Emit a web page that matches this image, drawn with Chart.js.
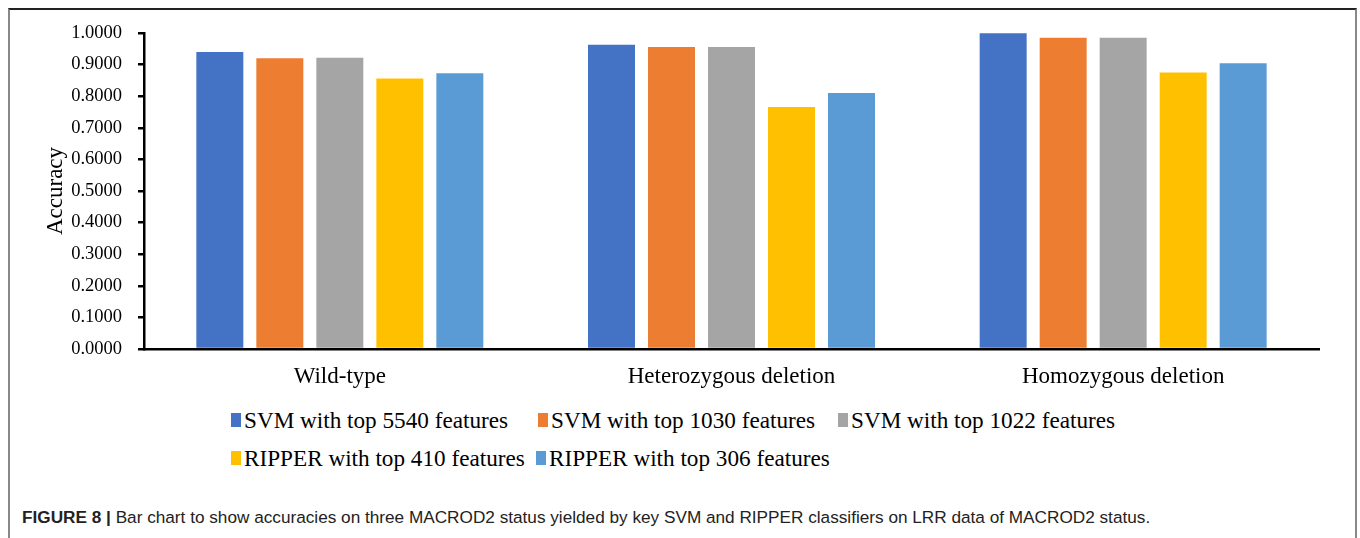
<!DOCTYPE html>
<html>
<head>
<meta charset="utf-8">
<script src="https://cdn.jsdelivr.net/npm/chart.js@4/dist/chart.umd.min.js"></script>
<style>
  html, body { margin: 0; padding: 0; background: #fff; width: 1360px; height: 538px; overflow: hidden; }
  #frame { position: absolute; left: 8px; top: 8px; width: 1349px; height: 600px;
           border-top: 2px solid #222; border-left: 2px solid #888; border-right: 2px solid #888; box-sizing: border-box; }
  #wrap { position: absolute; left: 0; top: 0; width: 1360px; height: 400px; }
  #legend { position: absolute; left: 0; top: 0; font-family: "Liberation Serif", "Times New Roman", serif; font-size: 23.2px; color: #000; }
  .item { position: absolute; white-space: nowrap; line-height: 26px; }
  .mk { position: absolute; left: 0; top: 6px; width: 10px; height: 14px; }
  .tx { position: absolute; left: 13px; top: 0; }
  #caption { position: absolute; left: 22px; top: 507px; font-family: "Liberation Sans", Arial, sans-serif; font-size: 17.2px; color: #222; white-space: nowrap; }
  #caption b { font-weight: bold; }
</style>
</head>
<body>
<div id="frame"></div>
<div id="wrap"><canvas id="c"></canvas></div>
<div id="legend"></div>
<div id="caption"><b>FIGURE 8 | </b>Bar chart to show accuracies on three MACROD2 status yielded by key SVM and RIPPER classifiers on LRR data of MACROD2 status.</div>
<script>
const categories = ["Wild-type", "Heterozygous deletion", "Homozygous deletion"];
const seriesNames = ["SVM with top 5540 features", "SVM with top 1030 features", "SVM with top 1022 features", "RIPPER with top 410 features", "RIPPER with top 306 features"];
const svm5540 = [0.940, 0.963, 0.999];
const svm1030 = [0.920, 0.956, 0.985];
const svm1022 = [0.922, 0.956, 0.985];
const ripper410 = [0.856, 0.766, 0.875];
const ripper306 = [0.873, 0.810, 0.904];
const colors = ["#4472C4", "#ED7D31", "#A5A5A5", "#FFC000", "#5B9BD5"];
const yTicks = [0, 0.1, 0.2, 0.3, 0.4, 0.5, 0.6, 0.7, 0.8, 0.9, 1.0];

const seriesValues = [svm5540, svm1030, svm1022, ripper410, ripper306];

const serif = "'Liberation Serif', 'Times New Roman', serif";

new Chart(document.getElementById('c'), {
  type: 'bar',
  data: {
    labels: categories,
    datasets: seriesNames.map((n, i) => ({
      label: n,
      data: seriesValues[i],
      backgroundColor: colors[i],
      borderWidth: 0,
      categoryPercentage: 0.766,
      barPercentage: 0.783
    }))
  },
  options: {
    responsive: true,
    maintainAspectRatio: false,
    animation: false,
    events: [],
    layout: { padding: { left: 0, right: 41, top: 33, bottom: 0 } },
    plugins: { legend: { display: false }, tooltip: { enabled: false } },
    scales: {
      x: {
        grid: { display: false, drawTicks: false },
        border: { display: true, color: '#000', width: 2.5 },
        ticks: { color: '#000', font: { family: serif, size: 23 }, padding: 14, maxRotation: 0 },
        afterFit: s => { s.height = 51; }
      },
      y: {
        min: 0, max: 1,
        afterBuildTicks: s => { s.ticks = yTicks.map(v => ({ value: v })); },
        grid: { drawOnChartArea: false, drawTicks: true, tickLength: 6, color: '#000', lineWidth: 2.5 },
        border: { display: true, color: '#000', width: 2.5 },
        ticks: { color: '#000', font: { family: serif, size: 18.5 }, padding: 16, callback: v => Number(v).toFixed(4) },
        title: { display: true, text: 'Accuracy', color: '#000', font: { family: serif, size: 23 }, padding: { top: 42, bottom: 0 } },
        afterFit: s => { s.width = 144; }
      }
    }
  }
});

// HTML legend built from series names and colours
const legendPos = [[231, 407], [538, 407], [838, 407], [231, 445], [536, 445]];
const lg = document.getElementById('legend');
seriesNames.forEach((n, i) => {
  const d = document.createElement('div');
  d.className = 'item';
  d.style.left = legendPos[i][0] + 'px';
  d.style.top = legendPos[i][1] + 'px';
  d.innerHTML = '<span class="mk" style="background:' + colors[i] + '"></span><span class="tx"></span>';
  d.querySelector('.tx').textContent = n;
  lg.appendChild(d);
});
</script>
</body>
</html>
